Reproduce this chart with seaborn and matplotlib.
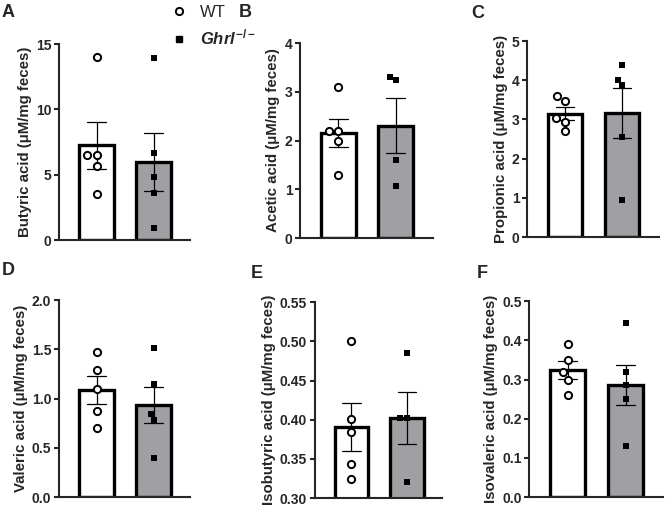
import seaborn as sns
import numpy as np
import matplotlib.pyplot as plt
import pandas as pd
from matplotlib.lines import Line2D
from matplotlib.ticker import FormatStrFormatter

# values (uM/mg feces)
groups = ["WT", "Ghrl"]

butyric_wt = [14.0, 6.5, 6.5, 5.7, 3.5]
butyric_ko = [13.9, 6.7, 4.8, 3.6, 0.9]
acetic_wt = [3.1, 2.2, 2.2, 2.0, 1.3]
acetic_ko = [3.3, 3.25, 1.6, 1.07]
propionic_wt = [3.6, 3.47, 3.04, 2.94, 2.70]
propionic_ko = [4.4, 4.0, 3.88, 2.56, 0.95]
valeric_wt = [1.47, 1.29, 1.1, 0.87, 0.7]
valeric_ko = [1.51, 1.15, 0.84, 0.78, 0.4]
isobutyric_wt = [0.50, 0.401, 0.384, 0.343, 0.325]
isobutyric_ko = [0.485, 0.402, 0.402, 0.32]
isovaleric_wt = [0.39, 0.35, 0.32, 0.30, 0.26]
isovaleric_ko = [0.445, 0.32, 0.285, 0.25, 0.13]

#%%
sns.set_style("ticks")
plt.rcParams['font.family'] = ['Liberation Sans', 'DejaVu Sans']
plt.rcParams['font.weight'] = 'bold'
plt.rcParams['mathtext.fontset'] = 'custom'
plt.rcParams['mathtext.it'] = 'Liberation Sans:italic'
plt.rcParams['mathtext.rm'] = 'Liberation Sans'

fig = plt.figure(figsize=(6.7, 5.13), dpi=100)

# axes boxes in figure fraction
boxes = {
    'A': [0.088, 0.532, 0.196, 0.382],
    'B': [0.448, 0.536, 0.198, 0.380],
    'C': [0.787, 0.538, 0.196, 0.382],
    'D': [0.088, 0.031, 0.196, 0.384],
    'E': [0.470, 0.029, 0.190, 0.382],
    'F': [0.790, 0.031, 0.199, 0.382],
}
letter_pos = {'A': (0.002, 0.992), 'B': (0.356, 0.992), 'C': (0.704, 0.99),
              'D': (0.002, 0.49), 'E': (0.374, 0.484), 'F': (0.711, 0.484)}

panels = [
    ('A', butyric_wt, butyric_ko, 'Butyric acid', [0, 5, 10, 15], '%d'),
    ('B', acetic_wt, acetic_ko, 'Acetic acid', [0, 1, 2, 3, 4], '%d'),
    ('C', propionic_wt, propionic_ko, 'Propionic acid', [0, 1, 2, 3, 4, 5], '%d'),
    ('D', valeric_wt, valeric_ko, 'Valeric acid', [0, 0.5, 1.0, 1.5, 2.0], '%.1f'),
    ('E', isobutyric_wt, isobutyric_ko, 'Isobutyric acid', [0.30, 0.35, 0.40, 0.45, 0.50, 0.55], '%.2f'),
    ('F', isovaleric_wt, isovaleric_ko, 'Isovaleric acid', [0.0, 0.1, 0.2, 0.3, 0.4, 0.5], '%.1f'),
]

axes = {}
for key, wt, ko, name, ticks, fmt in panels:
    ax = fig.add_axes(boxes[key])
    axes[key] = ax
    df = pd.DataFrame({'group': ['WT'] * len(wt) + ['Ghrl'] * len(ko),
                       'value': wt + ko})
    sns.barplot(data=df, x='group', y='value', order=groups, hue='group',
                hue_order=groups, palette={'WT': 'white', 'Ghrl': '#a0a0a4'},
                width=0.61, errorbar='se', capsize=0.33,
                err_kws={'color': 'k', 'linewidth': 0.9},
                edgecolor='k', linewidth=2.4, legend=False, ax=ax)
    sns.swarmplot(data=df[df['group'] == 'WT'], x='group', y='value', order=groups,
                  marker='o', color='white', edgecolor='k', linewidth=1.4,
                  size=5.2, ax=ax)
    sns.swarmplot(data=df[df['group'] == 'Ghrl'], x='group', y='value', order=groups,
                  marker='s', color='k', size=4.6, ax=ax)
    ax.set_xlim(-0.66, 1.64)
    ax.set_ylim(ticks[0], ticks[-1])
    ax.set_yticks(ticks)
    ax.yaxis.set_major_formatter(FormatStrFormatter(fmt))
    ax.tick_params(axis='x', bottom=False, labelbottom=False)
    ax.tick_params(axis='y', length=3.6, width=1.5, labelsize=10, pad=2)
    for s in ['left', 'bottom']:
        ax.spines[s].set_linewidth(1.5)
    sns.despine(ax=ax)
    ax.set_xlabel('')
    ax.set_ylabel(name + ' (\u03bcM/mg feces)', fontsize=10.8, fontweight='bold', labelpad=3)
    fig.text(letter_pos[key][0], letter_pos[key][1], key, fontsize=13,
             fontweight='bold', va='top', ha='left')

handles = [Line2D([], [], linestyle='', marker='o', markerfacecolor='white',
                  markeredgecolor='k', markeredgewidth=1.4, markersize=5.2),
           Line2D([], [], linestyle='', marker='s', color='k', markersize=4.6)]
axes['A'].legend(handles, ['WT', r'$\mathit{Ghrl}^{\mathit{-/-}}$'],
                 loc='upper left', bbox_to_anchor=(0.254, 0.99),
                 bbox_transform=fig.transFigure, frameon=False,
                 prop={'size': 12, 'weight': 'normal'}, handlelength=1.0,
                 handletextpad=0.8, labelspacing=0.45, borderpad=0,
                 borderaxespad=0)

fig.savefig('out.png', dpi=100)
